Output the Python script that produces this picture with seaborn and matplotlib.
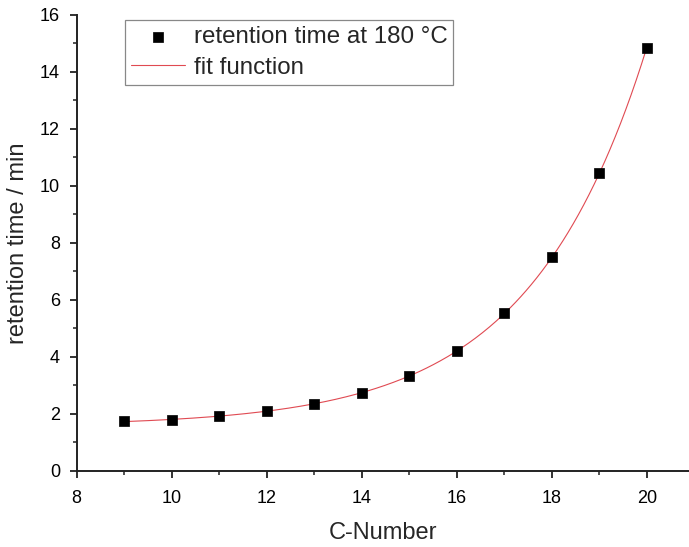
import numpy as np
import pandas as pd
import matplotlib
matplotlib.use("Agg")
import matplotlib.pyplot as plt
from matplotlib.ticker import MultipleLocator
import seaborn as sns

c_number = [9, 10, 11, 12, 13, 14, 15, 16, 17, 18, 19, 20]
retention_time = [1.73, 1.79, 1.92, 2.09, 2.34, 2.74, 3.32, 4.20, 5.53, 7.49, 10.46, 14.85]
x_label = "C-Number"
y_label = "retention time / min"
series_label = "retention time at 180 \u00b0C"
fit_label = "fit function"

sns.set_theme(style="ticks")
plt.rcParams['font.family'] = ['Liberation Sans', 'DejaVu Sans']

df = pd.DataFrame({"x": c_number, "y": retention_time})

# Exponential fit y = y0 + A*exp(x/t), least squares over a y0 grid
xa = np.array(c_number, float)
ya = np.array(retention_time, float)
best = None
for y0 in np.linspace(0.0, ya.min() - 1e-3, 400):
    b, a = np.polyfit(xa, np.log(ya - y0), 1)
    pred = y0 + np.exp(a + b * xa)
    sse = np.sum((pred - ya) ** 2)
    if best is None or sse < best[0]:
        best = (sse, y0, a, b)
_, y0, a, b = best
xf = np.linspace(min(c_number), max(c_number), 300)
fit_df = pd.DataFrame({"x": xf, "y": y0 + np.exp(a + b * xf)})

fig = plt.figure(figsize=(6.89, 5.47), dpi=100)
ax = fig.add_axes([0.1113, 0.1395, 1.0 - 0.1113, 0.9726 - 0.1395])

sns.scatterplot(data=df, x="x", y="y", marker="s", s=60, color="black",
                edgecolor="black", linewidth=0.5, label=series_label, ax=ax, zorder=3)
sns.lineplot(data=fit_df, x="x", y="y", color="#e04a52", linewidth=0.8,
             label=fit_label, ax=ax, zorder=2)

ax.set_xlim(8, 8 + (689 - 76.7) / 47.5)
ax.set_ylim(0, 16)
ax.xaxis.set_major_locator(MultipleLocator(2))
ax.xaxis.set_minor_locator(MultipleLocator(1))
ax.yaxis.set_major_locator(MultipleLocator(2))
ax.yaxis.set_minor_locator(MultipleLocator(1))
ax.tick_params(which="major", direction="out", length=5, width=1.3, labelsize=13,
               colors="#222222", labelcolor="black")
ax.tick_params(axis="x", which="major", pad=9)
ax.tick_params(axis="y", which="major", pad=7)
ax.tick_params(which="minor", direction="out", length=3, width=1.1, colors="#222222")
for side in ["top", "right"]:
    ax.spines[side].set_visible(False)
for side in ["left", "bottom"]:
    ax.spines[side].set_linewidth(1.4)
    ax.spines[side].set_color("#222222")

ax.set_xlabel(x_label, fontsize=17, labelpad=11)
ax.set_ylabel(y_label, fontsize=17, labelpad=7.5)

leg = ax.legend(loc="upper left", bbox_to_anchor=(0.079, 0.989), fontsize=17.4,
                frameon=True, fancybox=False, edgecolor="#888888", framealpha=1,
                borderpad=0.245, labelspacing=0.37, handlelength=2.25, handletextpad=0.35,
                borderaxespad=0)
leg.get_frame().set_linewidth(0.9)

fig.savefig("out.png", dpi=100)
